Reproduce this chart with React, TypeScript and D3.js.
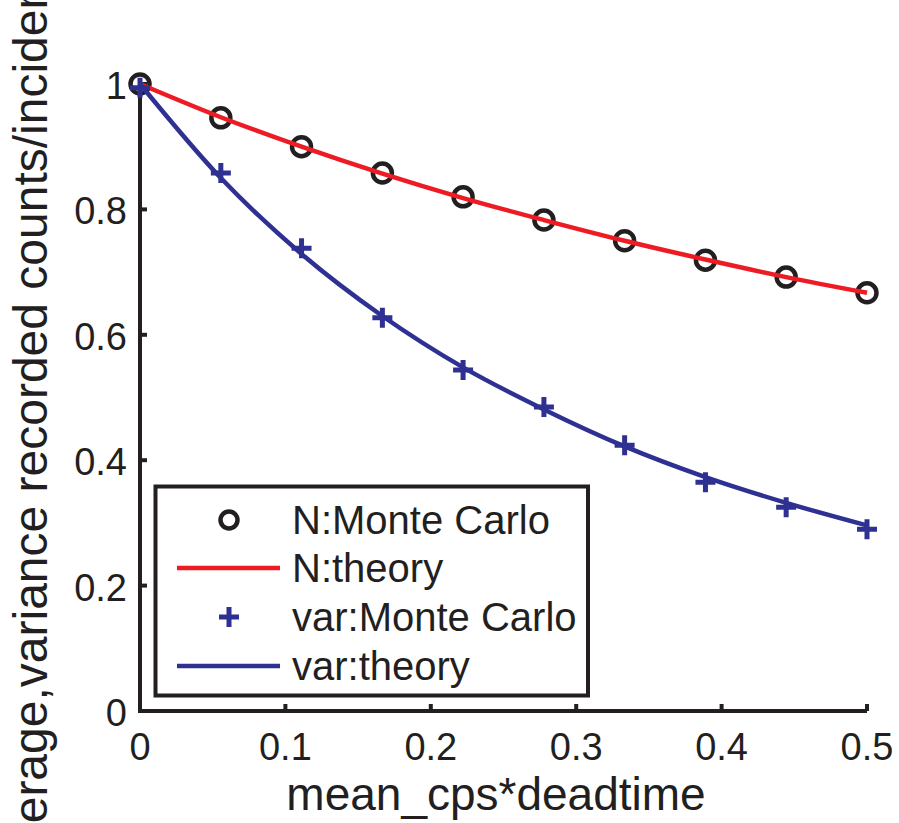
import React from "react";
import * as d3 from "d3";

// x positions of the simulated points (mean_cps*deadtime)
const xValues = [0, 0.0556, 0.1111, 0.1667, 0.2222, 0.2778, 0.3333, 0.3889, 0.4444, 0.5];
// N: Monte Carlo points and theory curve
const nMonteCarlo = [1.0, 0.946, 0.9, 0.858, 0.82, 0.783, 0.75, 0.719, 0.692, 0.667];
const nTheory = [1.0, 0.947, 0.9, 0.857, 0.818, 0.783, 0.75, 0.72, 0.692, 0.667];
// var: Monte Carlo points and theory curve
const varMonteCarlo = [0.994, 0.858, 0.738, 0.627, 0.544, 0.485, 0.424, 0.365, 0.325, 0.29];
const varTheory = [1.0, 0.85, 0.729, 0.63, 0.548, 0.481, 0.422, 0.373, 0.332, 0.296];

const xTicks = [0, 0.1, 0.2, 0.3, 0.4, 0.5];
const yTicks = [0, 0.2, 0.4, 0.6, 0.8, 1];
const legendLabels = ["N:Monte Carlo", "N:theory", "var:Monte Carlo", "var:theory"];

const RED = "#ed1c24";
const BLUE = "#2e3192";
const INK = "#231f20";
const FONT = "'Liberation Sans', Arial, Helvetica, sans-serif";

const App = () => {
  const width = 899;
  const height = 823;

  // plot area
  const x = d3.scaleLinear().domain([0, 0.5]).range([140, 867]);
  const y = d3.scaleLinear().domain([0, 1]).range([711, 84]);

  const line = d3
    .line<number>()
    .x((_, i) => x(xValues[i]))
    .y((d) => y(d))
    .curve(d3.curveMonotoneX);

  const plus = (cx: number, cy: number, s: number) =>
    `M${cx - s},${cy}H${cx + s}M${cx},${cy - s}V${cy + s}`;

  // legend layout
  const lg = { x: 155.5, y: 486.5, w: 432.5, h: 209 };
  const rowY = [520, 568, 617, 666];
  const textX = 292;

  return (
    <svg
      width={width}
      height={height}
      style={{ position: "absolute", left: 0, top: 0, background: "#fff" }}
      fontFamily={FONT}
    >
      {/* axes */}
      <path
        d={`M${x(0)},${y(1)}V${y(0)}H${x(0.5)}`}
        fill="none"
        stroke={INK}
        strokeWidth={4}
      />
      {xTicks.map((t) => (
        <g key={"x" + t}>
          <line x1={x(t)} x2={x(t)} y1={y(0)} y2={y(0) - 7} stroke={INK} strokeWidth={4} />
          <text x={x(t)} y={760} fontSize={38} textAnchor="middle" fill={INK}>
            {t === 0 ? "0" : String(t)}
          </text>
        </g>
      ))}
      {yTicks.map((t) => (
        <g key={"y" + t}>
          <line x1={x(0)} x2={x(0) + 7} y1={y(t)} y2={y(t)} stroke={INK} strokeWidth={4} />
          <text x={127} y={y(t) + 15} fontSize={38} textAnchor="end" fill={INK}>
            {String(t)}
          </text>
        </g>
      ))}

      {/* axis titles */}
      <text x={496} y={810} fontSize={46} textAnchor="middle" fill={INK}>
        mean_cps*deadtime
      </text>
      <text
        transform="translate(47,874) rotate(-90)"
        fontSize={48}
        textAnchor="start"
        fill={INK}
      >
        average,variance recorded counts/incident
      </text>

      {/* Monte Carlo circles */}
      {nMonteCarlo.map((v, i) => (
        <circle
          key={"c" + i}
          cx={x(xValues[i])}
          cy={y(v)}
          r={9.5}
          fill="none"
          stroke={INK}
          strokeWidth={4.5}
        />
      ))}

      {/* theory curves */}
      <path d={line(nTheory) ?? ""} fill="none" stroke={RED} strokeWidth={4.5} />
      <path d={line(varTheory) ?? ""} fill="none" stroke={BLUE} strokeWidth={4.5} />

      {/* Monte Carlo pluses */}
      {varMonteCarlo.map((v, i) => (
        <path
          key={"p" + i}
          d={plus(x(xValues[i]), y(v), 10)}
          fill="none"
          stroke={BLUE}
          strokeWidth={5}
        />
      ))}

      {/* legend */}
      <rect
        x={lg.x}
        y={lg.y}
        width={lg.w}
        height={lg.h}
        fill="#fff"
        stroke={INK}
        strokeWidth={4}
      />
      <circle cx={229} cy={rowY[0]} r={8.5} fill="none" stroke={INK} strokeWidth={4.5} />
      <line x1={177} x2={280} y1={rowY[1]} y2={rowY[1]} stroke={RED} strokeWidth={4.5} />
      <path d={plus(229, rowY[2], 10)} fill="none" stroke={BLUE} strokeWidth={5} />
      <line x1={177} x2={280} y1={rowY[3]} y2={rowY[3]} stroke={BLUE} strokeWidth={4.5} />
      {legendLabels.map((label, i) => (
        <text key={label} x={textX} y={rowY[i] + 14} fontSize={40} fill={INK}>
          {label}
        </text>
      ))}
    </svg>
  );
};

export default App;
